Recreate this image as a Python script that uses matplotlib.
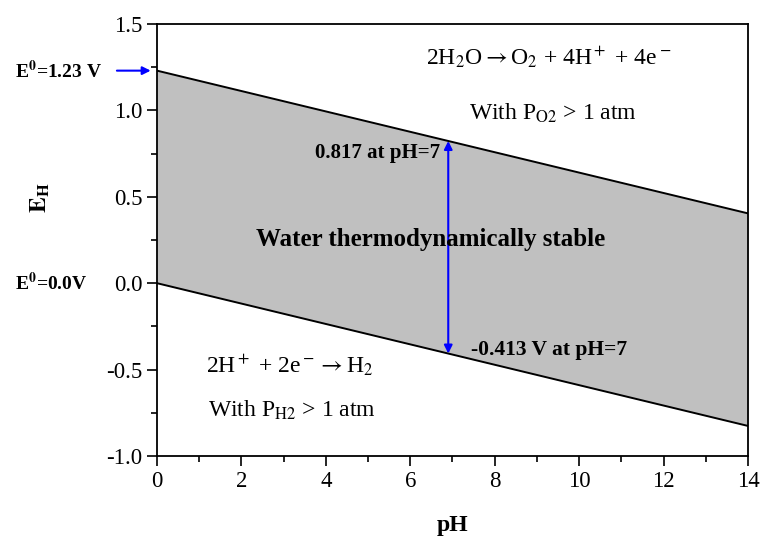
import numpy as np
import matplotlib
matplotlib.use('Agg')
import matplotlib.pyplot as plt
from matplotlib.ticker import MultipleLocator

plt.rcParams['font.family'] = ['Liberation Serif', 'DejaVu Serif']
plt.rcParams['mathtext.fontset'] = 'stix'

# data
ph = [0, 14]
e_o2 = [1.23, 1.23 - 0.059 * 14]   # gornja linija, O2/H2O
e_h2 = [0.0, -0.059 * 14]           # donja linija, H+/H2
ph_arrow = 6.9
e_top_7 = 1.23 - 0.059 * ph_arrow
e_bot_7 = -0.059 * ph_arrow

slika = plt.figure(figsize=(7.64, 5.39), dpi=100)
ax = slika.add_axes([0.2055, 0.154, 0.7735, 0.8015])

ax.fill_between(ph, e_h2, e_o2, color='#c0c0c0', lw=0)
ax.plot(ph, e_o2, c='k', lw=1.4)
ax.plot(ph, e_h2, c='k', lw=1.4)

ax.set_xlim(0, 14)
ax.set_ylim(-1.0, 1.5)
ax.xaxis.set_major_locator(MultipleLocator(2))
ax.xaxis.set_minor_locator(MultipleLocator(1))
ax.yaxis.set_major_locator(MultipleLocator(0.5))
ax.yaxis.set_minor_locator(MultipleLocator(0.25))
ax.yaxis.set_major_formatter(matplotlib.ticker.FormatStrFormatter('%.1f'))
ax.tick_params(which='both', direction='out', top=False, right=False, width=1.2)
ax.tick_params(which='major', length=7, labelsize=16.5)
ax.tick_params(which='minor', length=4)
for s in ax.spines.values():
    s.set_linewidth(1.3)

ax.set_xlabel('pH', fontsize=17, fontweight='bold', labelpad=17)
ax.set_ylabel(r'$\mathbf{E_H}$', fontsize=17, fontweight='bold')
ax.yaxis.set_label_coords(-0.178, 0.597)

# dvostruka strelica na pH 7
ax.annotate('', xy=(ph_arrow, e_top_7), xytext=(ph_arrow, e_bot_7),
            arrowprops=dict(arrowstyle='<|-|>', color='blue', lw=1.5,
                            mutation_scale=12, shrinkA=0, shrinkB=0))
# strelica za E0=1.23
ax.annotate('', xy=(-0.15, 1.23), xytext=(-0.95, 1.23), annotation_clip=False,
            arrowprops=dict(arrowstyle='-|>', color='blue', lw=1.5,
                            mutation_scale=12, shrinkA=0, shrinkB=0))

ax.text(-1.3, 1.23, r'E$^{\mathbf{0}}$=1.23 V', fontsize=14, fontweight='bold',
        ha='right', va='center', clip_on=False)
ax.text(-1.65, 0.0, r'E$^{\mathbf{0}}$=0.0V', fontsize=14, fontweight='bold',
        ha='right', va='center', clip_on=False)

ax.text(9.27, 1.31, r'2H$_2$O$\rightarrow$O$_2$ + 4H$^+$ + 4e$^-$',
        fontsize=17, ha='center', va='center')
ax.text(9.38, 0.985, r'With P$_{\mathrm{O2}}$ > 1 atm',
        fontsize=17, ha='center', va='center')
ax.text(6.7, 0.753, '0.817 at pH=7', fontsize=15, fontweight='bold',
        ha='right', va='center')
ax.text(6.49, 0.25, 'Water thermodynamically stable', fontsize=18,
        fontweight='bold', ha='center', va='center')
ax.text(7.44, -0.387, '-0.413 V at pH=7', fontsize=15.5, fontweight='bold',
        ha='left', va='center')
ax.text(3.15, -0.473, r'2H$^+$ + 2e$^-$$\rightarrow$H$_2$',
        fontsize=17, ha='center', va='center')
ax.text(3.2, -0.734, r'With P$_{\mathrm{H2}}$ > 1 atm',
        fontsize=17, ha='center', va='center')

plt.savefig('out.png', dpi=100)
